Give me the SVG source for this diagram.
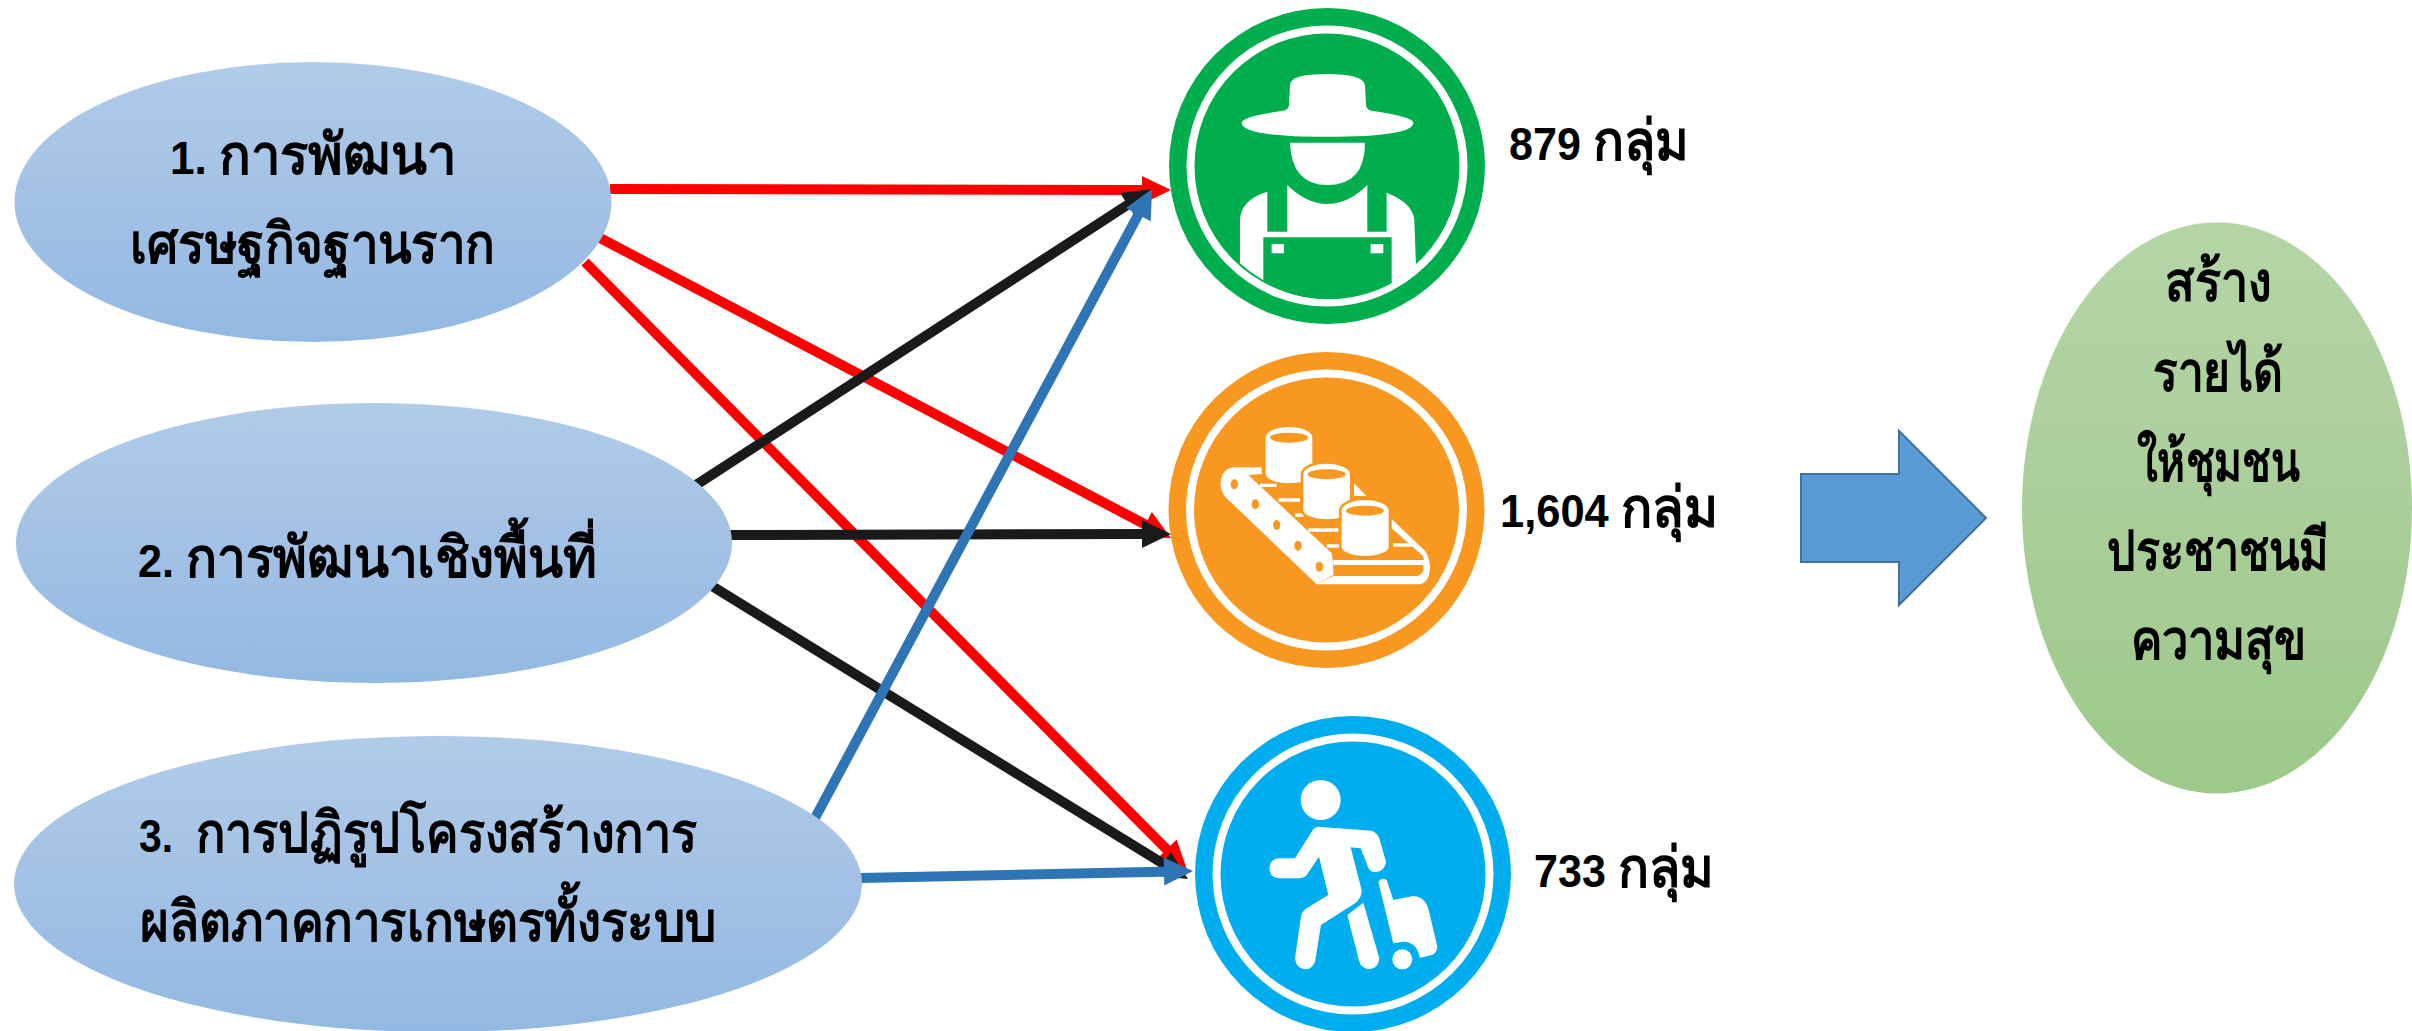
<svg xmlns="http://www.w3.org/2000/svg" width="2412" height="1031" viewBox="0 0 2412 1031">
<style>
text{font-family:"Liberation Sans","Noto Sans","DejaVu Sans",sans-serif;font-size:56px;font-weight:700;fill:#000}
.d{font-size:47px}
.red{stroke:#f00;fill:none;stroke-width:10}
.blk{stroke:#1a1a1a;fill:none;stroke-width:10}
.blu{stroke:#2e75b6;fill:none;stroke-width:10}
.w{fill:#fff}
</style>
<defs>
<linearGradient id="gb" x1="0" y1="0" x2="0" y2="1"><stop offset="0" stop-color="#b1cbe9"/><stop offset="0.5" stop-color="#a3c1e5"/><stop offset="1" stop-color="#92b9e3"/></linearGradient>
<linearGradient id="gg" x1="0" y1="0" x2="0" y2="1"><stop offset="0" stop-color="#b5d5a7"/><stop offset="0.5" stop-color="#aace99"/><stop offset="1" stop-color="#9dc98a"/></linearGradient>
<marker id="mr" markerUnits="userSpaceOnUse" markerWidth="34" markerHeight="34" refX="9" refY="14" orient="auto" overflow="visible"><path d="M0,0L29,14L0,28Z" fill="#f00"/></marker>
<marker id="mk" markerUnits="userSpaceOnUse" markerWidth="34" markerHeight="34" refX="9" refY="14" orient="auto" overflow="visible"><path d="M0,0L29,14L0,28Z" fill="#1a1a1a"/></marker>
<marker id="mb" markerUnits="userSpaceOnUse" markerWidth="34" markerHeight="34" refX="9" refY="14" orient="auto" overflow="visible"><path d="M0,0L29,14L0,28Z" fill="#2e75b6"/></marker>
</defs>
<rect width="2412" height="1031" fill="#fff"/>
<g id="connectors">
<line class="red" x1="610" y1="189" x2="1151" y2="190" marker-end="url(#mr)"/>
<line class="red" x1="600" y1="238" x2="1153.3" y2="528.7" marker-end="url(#mr)"/>
<line class="red" x1="585" y1="262" x2="1173" y2="855.8" marker-end="url(#mr)"/>
<line class="blk" x1="696" y1="485" x2="1135.2" y2="199.9" marker-end="url(#mk)"/>
<line class="blk" x1="730" y1="535" x2="1151" y2="534" marker-end="url(#mk)"/>
<line class="blk" x1="712" y1="586" x2="1171" y2="868.5" marker-end="url(#mk)"/>
<line class="blu" x1="815" y1="818" x2="1142.6" y2="206.6" marker-end="url(#mb)"/>
<line class="blu" x1="860" y1="878" x2="1173" y2="871.4" marker-end="url(#mb)"/>
</g>
<g id="n1"><ellipse cx="313" cy="202" rx="298.5" ry="140" fill="url(#gb)"/>
<text x="170" y="174" textLength="286" lengthAdjust="spacingAndGlyphs"><tspan class="d">1. </tspan>การพัฒนา</text>
<text x="130" y="263" textLength="365" lengthAdjust="spacingAndGlyphs">เศรษฐกิจฐานราก</text></g>
<g id="n2"><ellipse cx="374" cy="543" rx="358" ry="140" fill="url(#gb)"/>
<text x="138" y="577" textLength="459" lengthAdjust="spacingAndGlyphs"><tspan class="d">2. </tspan>การพัฒนาเชิงพื้นที่</text></g>
<g id="n3"><ellipse cx="438" cy="884" rx="424" ry="148" fill="url(#gb)"/>
<text x="139" y="852" textLength="558" lengthAdjust="spacingAndGlyphs"><tspan class="d">3.&#160; </tspan>การปฏิรูปโครงสร้างการ</text>
<text x="140" y="941" textLength="577" lengthAdjust="spacingAndGlyphs">ผลิตภาคการเกษตรทั้งระบบ</text></g>
<g id="farmer">
<circle cx="1327" cy="166" r="158" fill="#00ae4d"/>
<circle cx="1327" cy="166" r="136.5" fill="none" stroke="#fff" stroke-width="8"/>
<g transform="translate(1150 0) scale(.3333)">
<path class="w" d="M420,255Q420,222 530,222Q640,222 645,255L648,315Q650,330 665,332Q790,350 790,368Q790,410 530,410Q275,410 275,368Q275,350 400,332Q415,330 417,315Z"/>
<path class="w" d="M420,428H645Q645,555 532,555Q425,555 420,428Z"/>
<path class="w" d="M270,790V660Q272,600 352,575V695H412V555Q470,612 532,612Q595,612 652,555V695H710V578Q790,610 793,660L798,795A397,397 0 0 1 270,790Z"/>
<path fill="#00ae4d" d="M340,712H725V850A397,397 0 0 1 340,846Z"/>
<rect class="w" x="365" y="732" width="37" height="28"/><rect class="w" x="662" y="732" width="38" height="28"/>
</g></g>
<g id="factory">
<circle cx="1326.5" cy="510" r="158" fill="#f89820"/>
<circle cx="1326.5" cy="510" r="136.5" fill="none" stroke="#fff" stroke-width="8"/>
<g transform="translate(1150 340) scale(.3333)">
<path class="w" d="M250,382H335V402L295,405L545,640Q550,660 550,705L500,733L225,470Q210,450 212,425Q218,385 250,382Z"/>
<path class="w" d="M500,733H810Q840,725 840,680Q838,650 825,632L725,537V565L810,640Q822,650 822,660H550V675H818Q825,690 815,700Q810,708 800,708H550Z"/>
<g fill="#f89820"><ellipse cx="253" cy="433" rx="11" ry="15"/><ellipse cx="316" cy="493" rx="11" ry="15"/><ellipse cx="380" cy="555" rx="11" ry="15"/><ellipse cx="444" cy="617" rx="11" ry="15"/><ellipse cx="508" cy="680" rx="11" ry="15"/></g>
<g stroke="#fff" stroke-width="10"><path d="M330,436H380M385,480H450M435,525H462M475,570H565M530,618H570M730,615H800"/></g>
<path class="w" d="M612,430L650,468H612Z"/>
<path class="w" d="M347,293A70,32 0 0 1 487,293V400A70,30 0 0 1 347,400Z"/>
<ellipse cx="417" cy="293" rx="57" ry="15" fill="#f89820"/>
<path class="w" stroke="#f89820" stroke-width="8" d="M456,403A74,36 0 0 1 604,403V510A74,32 0 0 1 456,510Z"/>
<ellipse cx="530" cy="403" rx="57" ry="15" fill="#f89820"/>
<path class="w" stroke="#f89820" stroke-width="8" d="M571,512A74,36 0 0 1 720,512V620A74,32 0 0 1 571,620Z"/>
<ellipse cx="645" cy="512" rx="57" ry="15" fill="#f89820"/>
</g></g>
<g id="traveler">
<circle cx="1353" cy="874" r="158" fill="#00aeef"/>
<circle cx="1353" cy="874" r="136.5" fill="none" stroke="#fff" stroke-width="8"/>
<g transform="translate(1170 700) scale(.3333)">
<circle class="w" cx="452" cy="300" r="60"/>
<path class="w" d="M445,380L605,392Q622,398 628,415L648,485Q645,515 615,517Q595,515 590,490L572,445L542,442L575,570Q575,595 555,610L453,675L435,785Q425,808 405,808Q378,805 375,775L393,650Q395,635 410,625L475,585L447,470L410,525Q400,535 385,535L325,535Q298,530 298,505Q300,478 325,475L375,475L425,395Q432,382 445,380Z"/>
<path class="w" d="M532,645L580,608L628,775Q625,805 598,808Q575,805 568,785Z"/>
<path class="w" d="M625,545Q635,530 650,540L670,600L730,588Q765,590 775,625L802,740Q800,760 785,765L750,773Q740,725 700,725L670,730Z"/>
<circle class="w" cx="697" cy="778" r="30"/>
</g></g>
<text id="l1" x="1509" y="160" textLength="180" lengthAdjust="spacingAndGlyphs"><tspan class="d">879 </tspan>กลุ่ม</text>
<text id="l2" x="1500" y="527" textLength="218" lengthAdjust="spacingAndGlyphs"><tspan class="d">1,604 </tspan>กลุ่ม</text>
<text id="l3" x="1534" y="887" textLength="180" lengthAdjust="spacingAndGlyphs"><tspan class="d">733 </tspan>กลุ่ม</text>
<path id="bigarrow" d="M1801,474H1899V431L1986,518L1899,605V562H1801Z" fill="#5b9bd5" stroke="#41719c" stroke-width="2"/>
<g id="result"><ellipse cx="2217" cy="508" rx="195" ry="285.5" fill="url(#gg)"/>
<text x="2165" y="301" textLength="106" lengthAdjust="spacingAndGlyphs">สร้าง</text>
<text x="2153" y="391" textLength="130" lengthAdjust="spacingAndGlyphs">รายได้</text>
<text x="2137" y="481" textLength="163" lengthAdjust="spacingAndGlyphs">ให้ชุมชน</text>
<text x="2107" y="570" textLength="222" lengthAdjust="spacingAndGlyphs">ประชาชนมี</text>
<text x="2131" y="659" textLength="175" lengthAdjust="spacingAndGlyphs">ความสุข</text></g>
</svg>
